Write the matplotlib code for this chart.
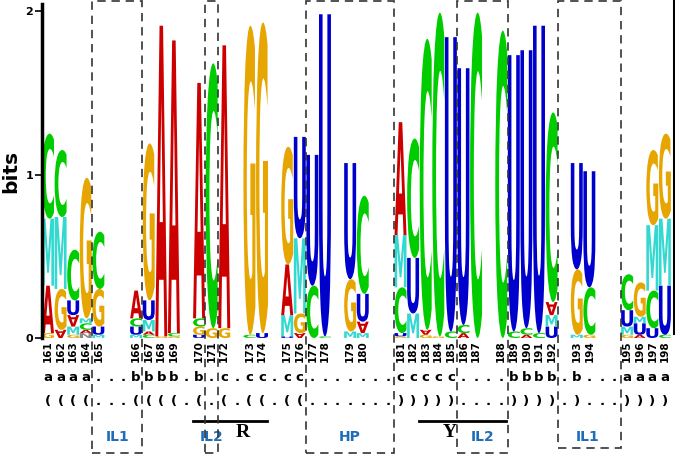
import numpy as np
import matplotlib
matplotlib.use('Agg')
import matplotlib.pyplot as plt
from matplotlib.textpath import TextPath
from matplotlib.font_manager import FontProperties
from matplotlib.patches import PathPatch, Rectangle
from matplotlib.transforms import Affine2D
from matplotlib.lines import Line2D

# numbered positions and the alignment column (1..50) each one sits on
position_labels = list(range(161, 199))
position_cols = [1, 2, 3, 4, 5, 8, 9, 10, 11, 13, 14, 15, 17, 18, 20, 21, 22, 23, 25, 26,
                 29, 30, 31, 32, 33, 34, 35, 37, 38, 39, 40, 41, 43, 44, 47, 48, 49, 50]

# letter stacks, bottom to top, heights in bits
stacks = [
    [('G', 0.03), ('A', 0.29), ('M', 0.41), ('C', 0.52)],                 # 161
    [('A', 0.05), ('G', 0.25), ('M', 0.44), ('C', 0.41)],                 # 162
    [('G', 0.02), ('M', 0.05), ('A', 0.07), ('U', 0.09), ('C', 0.31)],    # 163
    [('N', 0.03), ('A', 0.02), ('C', 0.04), ('M', 0.03), ('G', 0.86)],    # 164
    [('M', 0.02), ('U', 0.05), ('G', 0.23), ('C', 0.35)],                 # 165
    [('M', 0.02), ('U', 0.05), ('C', 0.05), ('A', 0.17)],                 # 166
    [('C', 0.02), ('A', 0.02), ('M', 0.07), ('U', 0.12), ('G', 0.96)],    # 167
    [('G', 0.01), ('A', 1.90)],                                           # 168
    [('G', 0.01), ('C', 0.02), ('A', 1.79)],                              # 169
    [('U', 0.02), ('G', 0.05), ('C', 0.05), ('A', 1.44)],                 # 170
    [('G', 0.06), ('C', 1.62)],                                           # 171
    [('G', 0.06), ('A', 1.73)],                                           # 172
    [('C', 0.02), ('G', 1.89)],                                           # 173
    [('U', 0.03), ('G', 1.90)],                                           # 174
    [('U', 0.01), ('M', 0.13), ('A', 0.31), ('G', 0.72)],                 # 175
    [('A', 0.03), ('G', 0.12), ('M', 0.46), ('U', 0.62)],                 # 176
    [('C', 0.32), ('U', 0.80)],                                           # 177
    [('C', 0.01), ('U', 1.97)],                                           # 178
    [('M', 0.04), ('G', 0.32), ('U', 0.71)],                              # 179
    [('M', 0.03), ('A', 0.07), ('U', 0.17), ('C', 0.60)],                 # 180
    [('G', 0.01), ('U', 0.02), ('C', 0.28), ('M', 0.32), ('A', 0.69)],    # 181
    [('M', 0.15), ('U', 0.34), ('C', 0.73)],                              # 182
    [('G', 0.02), ('A', 0.03), ('C', 1.78)],                              # 183
    [('G', 0.01), ('C', 1.98)],                                           # 184
    [('C', 0.04), ('U', 1.80)],                                           # 185
    [('A', 0.03), ('C', 0.05), ('U', 1.57)],                              # 186
    [('C', 1.99)],                                                        # 187
    [('C', 1.88)],                                                        # 188
    [('C', 0.04), ('U', 1.69)],                                           # 189
    [('A', 0.02), ('C', 0.04), ('U', 1.70)],                              # 190
    [('C', 0.03), ('U', 1.88)],                                           # 191
    [('U', 0.07), ('M', 0.07), ('A', 0.08), ('C', 1.16)],                 # 192
    [('M', 0.02), ('G', 0.40), ('U', 0.65)],                              # 193
    [('G', 0.02), ('C', 0.29), ('U', 0.71)],                              # 194
    [('G', 0.02), ('M', 0.05), ('U', 0.10), ('C', 0.22)],                 # 195
    [('A', 0.02), ('U', 0.07), ('M', 0.04), ('G', 0.21)],                 # 196
    [('U', 0.06), ('C', 0.23), ('M', 0.40), ('G', 0.46)],                 # 197
    [('C', 0.02), ('U', 0.30), ('M', 0.41), ('G', 0.52)],                 # 198
]
# letters drawn upside down
flipped = {(162, 'A'), (163, 'A'), (176, 'A'), (180, 'A'), (183, 'A'), (192, 'A')}

pair_row = "aaaa...bbbb.b.c.cc.cc.......ccccc....bbbb.b...aaaa"
bracket_row = "((((...((((.(.(.((.((.......)))))....)))).)...))))"

# boxed regions: (label, first col edge, last col edge)
regions = [('IL1', 4.5, 8.5), ('IL2', 13.5, 14.5), ('HP', 21.5, 28.5),
           ('IL2', 33.5, 37.5), ('IL1', 41.5, 46.5)]
region_label_x = [6.5, 14.0, 25.0, 35.5, 43.9]

colors = {'A': '#cc0000', 'C': '#00cc00', 'G': '#e6a500', 'U': '#0000cc',
          'M': '#33d9d0', 'N': '#888888'}

fp = FontProperties(family='DejaVu Sans', weight='bold')


def draw_letter(ax, ch, x, y0, w, h, flip=False):
    tp = TextPath((0, 0), ch, size=1, prop=fp)
    bb = tp.get_extents()
    t = Affine2D().translate(-bb.x0, -bb.y0).scale(w / bb.width, h / bb.height)
    if flip:
        t = t.scale(1, -1).translate(0, h)
    t = t.translate(x - w / 2, y0)
    ax.add_patch(PathPatch(t.transform_path(tp), fc=colors[ch], ec='none', lw=0))


fig = plt.figure(figsize=(6.75, 4.55), dpi=100)
ax = fig.add_axes([41.7 / 675, 117 / 455, 629.5 / 675, 2.04 * 163.5 / 455])
ax.set_xlim(0.5, 50.5)
ax.set_ylim(0, 2.04)

for lab, col, stack in zip(position_labels, position_cols, stacks):
    y = 0
    for ch, h in stack:
        draw_letter(ax, ch, col, y, 0.95, h, (lab, ch) in flipped)
        y += h
    ax.text(col, -0.012, str(lab), rotation=90, ha='center', va='top',
            fontsize=7.5, fontweight='bold', clip_on=False)

for i, (p, b) in enumerate(zip(pair_row, bracket_row)):
    ax.text(i + 1, -0.239, p, ha='center', va='center', fontsize=9.5,
            fontweight='bold', clip_on=False)
    ax.text(i + 1, -0.391, b, ha='center', va='center', fontsize=9.5,
            fontweight='bold', clip_on=False)

for (name, x0, x1), lx in zip(regions, region_label_x):
    ybot = -0.673 if x0 > 40 else -0.703
    ax.add_patch(Rectangle((x0, ybot), x1 - x0, 2.064 - ybot, fill=False,
                           ec='#333333', lw=1.2, ls=(0, (5, 3.5)),
                           clip_on=False, zorder=5))
    ax.text(lx, -0.606, name, ha='center', va='center', fontsize=10,
            fontweight='bold', color='#1f6cb8', clip_on=False)

# R and Y motif bars
ax.plot([12.5, 18.4], [-0.508, -0.508], color='k', lw=2, clip_on=False)
ax.plot([30.5, 37.4], [-0.508, -0.508], color='k', lw=2, clip_on=False)
ax.text(16.5, -0.58, 'R', ha='center', va='center', fontsize=14,
        fontweight='bold', family='Liberation Serif', clip_on=False)
ax.text(32.9, -0.575, 'Y', ha='center', va='center', fontsize=14,
        fontweight='bold', family='Liberation Serif', clip_on=False)

for s in ['top', 'right', 'bottom']:
    ax.spines[s].set_visible(False)
ax.spines['left'].set_linewidth(2.5)
ax.set_xticks([])
ax.set_yticks([0, 1, 2])
ax.tick_params(axis='y', length=5, width=1.2, labelsize=8, pad=1)
for t in ax.get_yticklabels():
    t.set_fontweight('bold')
ax.set_ylabel('bits', fontsize=14.5, fontweight='bold', labelpad=4)

fig.add_artist(Line2D([673.5 / 675] * 2, [(455 - 333) / 455, 1.0], color='k', lw=2.2))

plt.savefig('out.png', dpi=100)
